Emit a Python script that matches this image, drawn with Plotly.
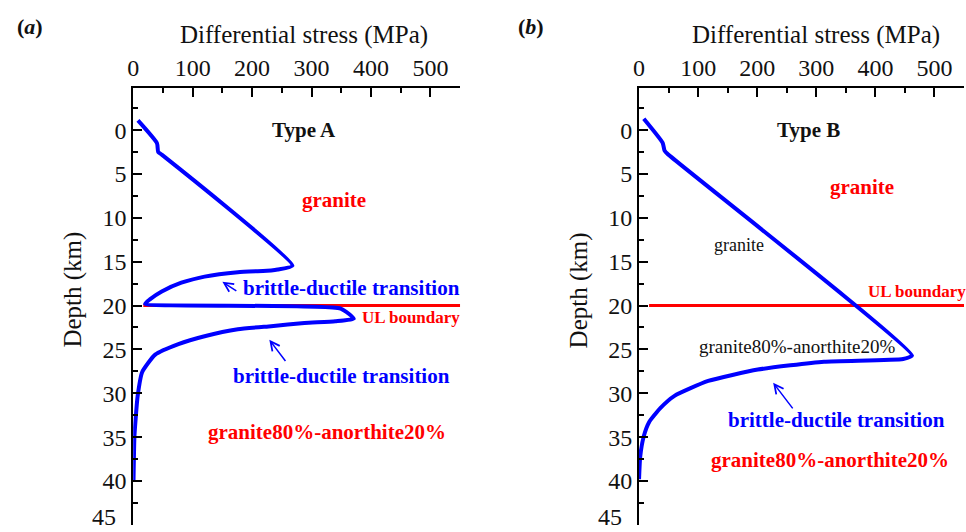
import plotly.graph_objects as go

# ---- data (MPa, km) ----
stress_a = [8, 40, 42, 48, 268, 243, 232, 176, 120, 81, 48, 28, 20, 349, 371, 340, 288, 232, 176, 120, 76, 37, 15, 7.5, 4, 2, 0.5]
depth_a = [-1.1, 1.5, 2.5, 2.8, 15.45, 15.9, 16.0, 16.2, 16.7, 17.4, 18.4, 19.3, 19.8, 20.35, 21.5, 21.8, 22.0, 22.35, 22.7, 23.5, 24.4, 25.6, 27.6, 30.3, 33.0, 35.0, 40.0]

stress_b = [8, 40, 43, 48, 462, 447, 313, 201, 117, 60, 36, 17, 8, 2, 0]
depth_b = [-1.3, 1.45, 2.3, 2.7, 25.7, 26.1, 26.4, 27.3, 28.6, 30.3, 31.7, 33.3, 34.9, 37.2, 39.8]

boundary_x = [17, 550]
boundary_y = [20, 20]

x_ticks = [0, 100, 200, 300, 400, 500]
y_ticks = [0, 5, 10, 15, 20, 25, 30, 35, 40, 45]

BLUE = "#0000ff"
RED = "#ff0000"
SERIF = "Liberation Serif, Times New Roman, serif"

fig = go.Figure()
fig.add_trace(go.Scatter(x=boundary_x, y=boundary_y, mode="lines", line=dict(color=RED, width=3),
                         xaxis="x", yaxis="y", showlegend=False))
fig.add_trace(go.Scatter(x=stress_a, y=depth_a, mode="lines", line=dict(color=BLUE, width=4, shape="spline", smoothing=0.5),
                         xaxis="x", yaxis="y", showlegend=False))
fig.add_trace(go.Scatter(x=boundary_x, y=boundary_y, mode="lines", line=dict(color=RED, width=3),
                         xaxis="x2", yaxis="y2", showlegend=False))
fig.add_trace(go.Scatter(x=stress_b, y=depth_b, mode="lines", line=dict(color=BLUE, width=4, shape="spline", smoothing=0.5),
                         xaxis="x2", yaxis="y2", showlegend=False))

W, H = 966, 532
ydom = [1 - 525 / H, 1 - 88 / H]

def xax(dom, anchor):
    return dict(domain=dom, range=[0, 550], side="top", anchor=anchor,
                showline=True, linecolor="black", linewidth=2, mirror=False,
                ticks="inside", ticklen=9, tickwidth=2, tickcolor="black",
                tickvals=x_ticks, showgrid=False, zeroline=False,
                minor=dict(ticks="inside", ticklen=5, tickwidth=2, dtick=50, tickcolor="black", showgrid=False),
                tickfont=dict(family=SERIF, size=24, color="#111"))

def yax(anchor):
    return dict(domain=ydom, range=[45.02, -4.8], anchor=anchor,
                showline=True, linecolor="black", linewidth=2, mirror=False,
                ticks="inside", ticklen=9, tickwidth=2, tickcolor="black",
                tickvals=y_ticks, showgrid=False, zeroline=False, ticksuffix="\u00a0\u00a0",
                minor=dict(ticks="inside", ticklen=5, tickwidth=2, dtick=2.5, tickcolor="black", showgrid=False),
                tickfont=dict(family=SERIF, size=24, color="#111"))

annotations = []

def txt(text, x, y, xref, yref, size, color, bold=False, xanchor="center"):
    t = f"<b>{text}</b>" if bold else text
    annotations.append(dict(text=t, x=x, y=y, xref=xref, yref=yref, showarrow=False,
                            xanchor=xanchor, yanchor="middle",
                            font=dict(family=SERIF, size=size, color=color)))

def arrow(hx, hy, tx, ty, xref, yref):
    annotations.append(dict(text="", x=hx, y=hy, ax=tx, ay=ty, xref=xref, yref=yref,
                            axref=xref, ayref=yref, showarrow=True, arrowhead=5,
                            arrowsize=1.2, arrowwidth=1.5, arrowcolor=BLUE))

# axis titles and panel labels (paper coords)
txt("Differential stress (MPa)", 300 / W, 1 - 35 / H, "paper", "paper", 25, "#111")
txt("Differential stress (MPa)", 815 / W, 1 - 35 / H, "paper", "paper", 25, "#111")
annotations.append(dict(text="Depth (km)", x=67 / W, y=1 - 290 / H, xref="paper", yref="paper",
                        xanchor="center", yanchor="middle",
                        showarrow=False, textangle=-90, font=dict(family=SERIF, size=25, color="#111")))
annotations.append(dict(text="Depth (km)", x=577 / W, y=1 - 290 / H, xref="paper", yref="paper",
                        xanchor="center", yanchor="middle",
                        showarrow=False, textangle=-90, font=dict(family=SERIF, size=25, color="#111")))
txt("<b>(<i>a</i>)</b>", 24 / W, 1 - 27 / H, "paper", "paper", 22, "#111")
txt("<b>(<i>b</i>)</b>", 528 / W, 1 - 27 / H, "paper", "paper", 22, "#111")

# last tick label (sits at the page's bottom edge)
for xr, yr in (("x", "y"), ("x2", "y2")):
    annotations.append(dict(text=str(y_ticks[-1]), x=0, y=y_ticks[-1], xref=xr, yref=yr,
                            showarrow=False, xanchor="right", yanchor="bottom", xshift=-15, yshift=-7,
                            font=dict(family=SERIF, size=24, color="#111")))

# panel a
txt("Type A", 288, 0, "x", "y", 21, "#111", bold=True)
txt("granite", 338, 8.0, "x", "y", 21, RED, bold=True)
txt("brittle-ductile transition", 368, 18.0, "x", "y", 21, BLUE, bold=True)
txt("UL boundary", 468, 21.4, "x", "y", 17, RED, bold=True)
txt("brittle-ductile transition", 351, 28.0, "x", "y", 21, BLUE, bold=True)
txt("granite80%-anorthite20%", 326, 34.4, "x", "y", 21, RED, bold=True)
arrow(150, 17.3, 176, 18.45, "x", "y")
arrow(229, 23.9, 258, 26.5, "x", "y")

# panel b
txt("Type B", 287, 0, "x2", "y2", 21, "#111", bold=True)
txt("granite", 378, 6.5, "x2", "y2", 21, RED, bold=True)
txt("granite", 170, 13.1, "x2", "y2", 18, "#111")
txt("UL boundary", 384, 18.45, "x2", "y2", 17, RED, bold=True, xanchor="left")
txt("granite80%-anorthite20%", 267, 24.7, "x2", "y2", 19, "#111")
txt("brittle-ductile transition", 334, 33.0, "x2", "y2", 21, BLUE, bold=True)
txt("granite80%-anorthite20%", 324, 37.6, "x2", "y2", 21, RED, bold=True)
arrow(227, 28.8, 262, 31.9, "x2", "y2")

fig.update_layout(
    width=W, height=H, margin=dict(l=0, r=0, t=0, b=0),
    paper_bgcolor="white", plot_bgcolor="white",
    xaxis=xax([128 / W, 457 / W], "y"),
    yaxis=yax("x"),
    xaxis2=xax([637 / W, 964 / W], "y2"),
    yaxis2=yax("x2"),
    annotations=annotations,
    showlegend=False,
)

fig.write_html("out.html")
